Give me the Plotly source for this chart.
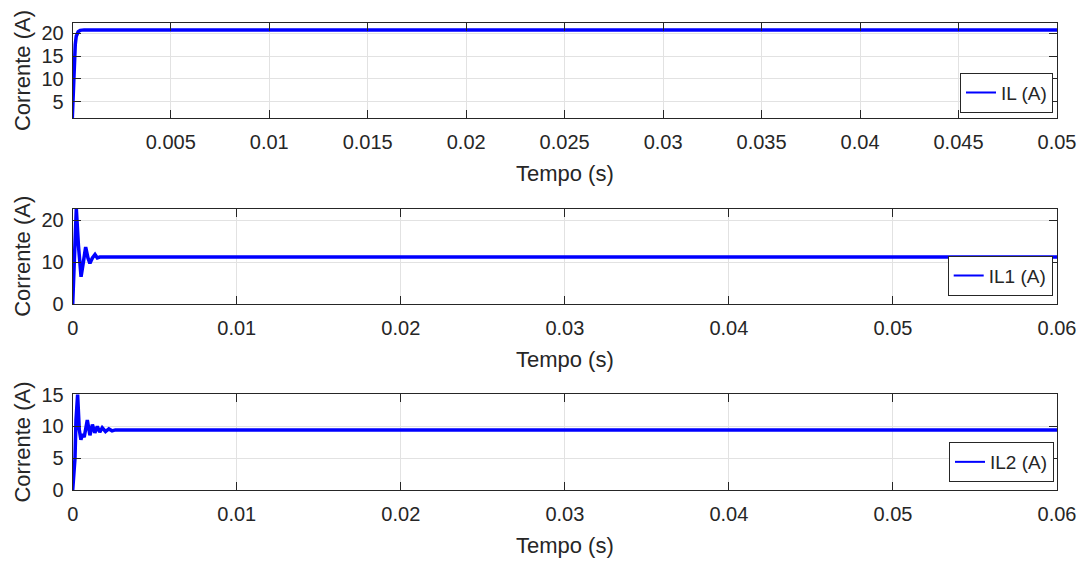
import plotly.graph_objects as go

# ---------------- data ----------------
t_il = [0.0, 0.00005, 0.0001, 0.00015, 0.0002, 0.0003, 0.0004, 0.0006, 0.01, 0.02, 0.03, 0.035, 0.04, 0.05]
il = [1.5, 8.0, 14.0, 17.5, 19.3, 20.3, 20.6, 20.7, 20.7, 20.7, 20.7, 20.6, 20.7, 20.7]

t_il1 = [0.0, 0.0001, 0.00022, 0.00035, 0.00051, 0.00065, 0.00079, 0.00093, 0.00105, 0.0012,
         0.00136, 0.0015, 0.00165, 0.002, 0.01, 0.02, 0.03, 0.04, 0.05, 0.06]
il1 = [0.0, 12.0, 22.8, 14.0, 6.5, 10.0, 13.6, 11.0, 9.7, 11.0,
       11.8, 11.0, 11.2, 11.2, 11.2, 11.2, 11.2, 11.2, 11.2, 11.2]

t_il2 = [0.0, 0.00014, 0.0002, 0.0003, 0.0004, 0.0005, 0.0006, 0.0007, 0.00089, 0.00105,
         0.0012, 0.00135, 0.0015, 0.00165, 0.0018, 0.002, 0.0022, 0.0024, 0.0026,
         0.01, 0.02, 0.03, 0.04, 0.05, 0.06]
il2 = [0.0, 5.0, 11.0, 15.0, 9.5, 7.9, 8.8, 8.3, 11.0, 8.6,
       10.3, 9.0, 10.0, 9.1, 9.8, 9.2, 9.6, 9.3, 9.45,
       9.45, 9.45, 9.45, 9.45, 9.45, 9.45]

names = ["IL (A)", "IL1 (A)", "IL2 (A)"]

x1_ticks = [0.005, 0.01, 0.015, 0.02, 0.025, 0.03, 0.035, 0.04, 0.045, 0.05]
x1_text = ["0.005", "0.01", "0.015", "0.02", "0.025", "0.03", "0.035", "0.04", "0.045", "0.05"]
x23_ticks = [0, 0.01, 0.02, 0.03, 0.04, 0.05, 0.06]
x23_text = ["0", "0.01", "0.02", "0.03", "0.04", "0.05", "0.06"]
y1_ticks = [5, 10, 15, 20]
y2_ticks = [0, 10, 20]
y3_ticks = [0, 5, 10, 15]

xlabel = "Tempo (s)"
ylabel = "Corrente (A)"

# ---------------- figure ----------------
W, H = 1086, 563
FONT = "Liberation Sans, Arial, Helvetica, sans-serif"
AX = "#262626"
GRID = "#e2e2e2"
BLUE = "#0000ff"

fig = go.Figure()

series = [(t_il, il), (t_il1, il1), (t_il2, il2)]
for i, (tx, vy) in enumerate(series):
    sfx = "" if i == 0 else str(i + 1)
    fig.add_trace(go.Scatter(x=tx, y=vy, mode="lines",
                             line=dict(color=BLUE, width=3.5),
                             showlegend=False, hoverinfo="skip",
                             xaxis="x" + sfx, yaxis="y" + sfx))
    # legend entry (thinner line as in the reference)
    fig.add_trace(go.Scatter(x=[None], y=[None], mode="lines", name=names[i],
                             line=dict(color=BLUE, width=2),
                             legend="legend" + sfx,
                             xaxis="x" + sfx, yaxis="y" + sfx))

def px_y(top, bottom):
    return [1 - bottom / H, 1 - top / H]

xdom = [72.7 / W, 1057 / W]
doms = [px_y(23, 118), px_y(208.5, 304), px_y(394, 490)]

common = dict(showline=True, linecolor=AX, linewidth=1, mirror="ticks",
              ticks="inside", ticklen=8, tickcolor=AX, tickwidth=1,
              showgrid=True, gridcolor=GRID, gridwidth=1, zeroline=False,
              automargin=False,
              tickfont=dict(family=FONT, size=20, color=AX))

xspecs = [([0.00002, 0.05], x1_ticks, x1_text),
          ([0, 0.06], x23_ticks, x23_text),
          ([0, 0.06], x23_ticks, x23_text)]
yspecs = [([1.5, 22.2], y1_ticks), ([0, 22.8], y2_ticks), ([0, 15.1], y3_ticks)]

layout = dict(width=W, height=H, margin=dict(l=0, r=0, t=0, b=0),
              paper_bgcolor="white", plot_bgcolor="white",
              font=dict(family=FONT, color=AX))

legpos = [(1053 / W, 1 - 112.7 / H), (1052.7 / W, 1 - 295.7 / H), (1054 / W, 1 - 482 / H)]

for i in range(3):
    sfx = "" if i == 0 else str(i + 1)
    xr, xt, xtt = xspecs[i]
    yr, yt = yspecs[i]
    layout["xaxis" + sfx] = dict(common, domain=xdom, range=xr, tickvals=xt, ticktext=xtt,
                                 anchor="y" + sfx, ticklabelstandoff=6,
                                 title=dict(text=xlabel, standoff=13,
                                            font=dict(family=FONT, size=22, color=AX)))
    layout["yaxis" + sfx] = dict(common, domain=doms[i], range=yr, tickvals=yt,
                                 anchor="x" + sfx, ticklabelstandoff=4,
                                 title=dict(text=ylabel, standoff=4,
                                            font=dict(family=FONT, size=22, color=AX)))
    lx, ly = legpos[i]
    layout["legend" + sfx] = dict(x=lx, y=ly, xanchor="right", yanchor="bottom",
                                  xref="paper", yref="paper",
                                  bgcolor="white", bordercolor=AX, borderwidth=1,
                                  font=dict(family=FONT, size=19, color=AX),
                                  itemwidth=30, tracegroupgap=0)

fig.update_layout(**layout)
fig.write_html("out.html")
